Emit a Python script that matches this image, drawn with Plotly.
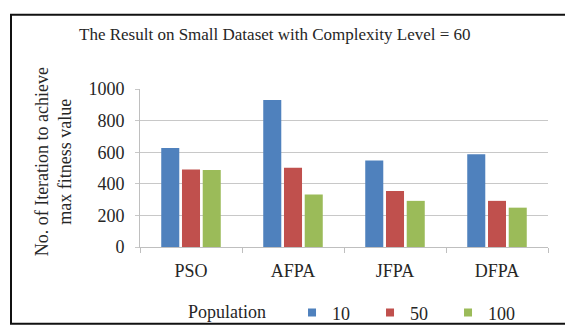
import plotly.graph_objects as go

# Data
algorithms = ["PSO", "AFPA", "JFPA", "DFPA"]
population_labels = ["10", "50", "100"]
iter_pop10 = [626, 930, 547, 587]
iter_pop50 = [491, 501, 354, 292]
iter_pop100 = [487, 332, 292, 249]
y_ticks = [0, 200, 400, 600, 800, 1000]

colors = ["#4F81BD", "#C0504D", "#9BBB59"]
series = [iter_pop10, iter_pop50, iter_pop100]

W, H = 565, 336
FONT = "Liberation Serif"
TXT = "#262626"

fig = go.Figure()
for name, vals, col in zip(population_labels, series, colors):
    fig.add_trace(go.Bar(x=algorithms, y=vals, name=name,
                         marker=dict(color=col, line=dict(width=0)),
                         showlegend=False))
    # small square legend markers
    fig.add_trace(go.Scatter(x=[None], y=[None], mode="markers", name=name,
                             marker=dict(symbol="square", size=8, color=col),
                             showlegend=True))

fig.update_layout(
    width=W, height=H,
    margin=dict(l=0, r=0, t=0, b=0),
    paper_bgcolor="white", plot_bgcolor="white",
    font=dict(family=FONT, size=17, color=TXT),
    barmode="group", bargap=0.39, bargroupgap=0.13,
    showlegend=True,
    legend=dict(orientation="h", x=186 / W, xanchor="left",
                y=(H - 322) / H, yanchor="middle",
                title=dict(text="Population&nbsp;&nbsp;&nbsp;&nbsp;", side="left",
                           font=dict(family=FONT, size=18, color=TXT)),
                font=dict(family=FONT, size=18, color=TXT),
                entrywidth=33, entrywidthmode="pixels",
                bgcolor="rgba(0,0,0,0)"),
    xaxis=dict(domain=[140 / W, 548 / W], showgrid=False,
               showline=True, linecolor="#BFBFBF", linewidth=1,
               ticks="outside", tickson="boundaries", ticklen=5, tickcolor="#BFBFBF",
               ticklabelstandoff=7,
               tickfont=dict(family=FONT, size=18, color=TXT), anchor="y"),
    yaxis=dict(domain=[(H - 252) / H, (H - 84) / H], range=[0, 1000],
               tickvals=y_ticks, showgrid=True, gridcolor="#C8C8C8", gridwidth=1,
               showline=True, linecolor="#BFBFBF", linewidth=1,
               ticks="outside", ticklen=4, tickcolor="#C8C8C8",
               ticklabelstandoff=7,
               tickfont=dict(family=FONT, size=18, color=TXT), zeroline=False,
               anchor="x"),
    annotations=[
        dict(text="The Result on Small Dataset with Complexity Level = 60",
             x=77 / W, y=(H - 26) / H, xref="paper", yref="paper",
             xanchor="left", yanchor="middle", showarrow=False,
             font=dict(family=FONT, size=17, color=TXT)),
        dict(text="No. of Iteration to achieve<br>max fitness value",
             x=53 / W, y=(H - 162) / H, xref="paper", yref="paper",
             xanchor="center", yanchor="middle", showarrow=False,
             textangle=-90, font=dict(family=FONT, size=18, color=TXT)),
    ],
    shapes=[
        dict(type="rect", xref="paper", yref="paper",
             x0=11 / W, x1=1.02, y0=(H - 333.5) / H, y1=(H - 5) / H,
             line=dict(color="#111111", width=2), fillcolor="rgba(0,0,0,0)"),
    ],
)

fig.write_html("out.html")
